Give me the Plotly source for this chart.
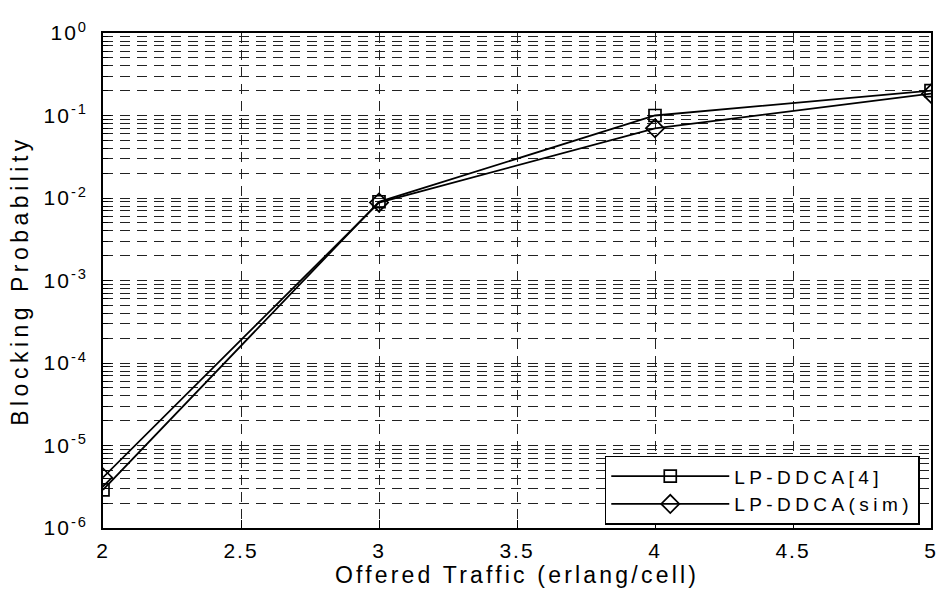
import plotly.graph_objects as go

# Offered traffic per cell (erlang) and blocking probability for each method
traffic = [2, 3, 4, 5]
lp_ddca_ref = [2.9e-6, 9.0e-3, 0.100, 0.200]
lp_ddca_sim = [4.1e-6, 8.8e-3, 0.070, 0.184]

x_ticks = [2, 2.5, 3, 3.5, 4, 4.5, 5]
x_tick_text = ["2", "2.5", "3", "3.5", "4", "4.5", "5"]
y_ticks = [1e-6, 1e-5, 1e-4, 1e-3, 1e-2, 1e-1, 1e0]
y_tick_text = ["10<sup>-6</sup>", "10<sup>-5</sup>", "10<sup>-4</sup>", "10<sup>-3</sup>",
               "10<sup>-2</sup>", "10<sup>-1</sup>", "10<sup>0</sup>"]

FONT = "Liberation Sans, Arial, sans-serif"
GRID_DASH = "10px,7px"

fig = go.Figure()
fig.add_trace(go.Scatter(
    x=traffic, y=lp_ddca_ref, name="LP-DDCA[4]", mode="lines+markers",
    line=dict(color="black", width=1.8),
    marker=dict(symbol="square-open", size=12, color="black", line=dict(width=1.7)),
))
fig.add_trace(go.Scatter(
    x=traffic, y=lp_ddca_sim, name="LP-DDCA(sim)", mode="lines+markers",
    line=dict(color="black", width=1.8),
    marker=dict(symbol="diamond-open", size=14, color="black", line=dict(width=1.7)),
))

fig.update_layout(
    width=943, height=589,
    margin=dict(l=103, r=6, t=33, b=58),
    paper_bgcolor="white", plot_bgcolor="white",
    font=dict(family=FONT, color="black", size=21),
    showlegend=True,
    legend=dict(
        x=0.606, y=0.146, xanchor="left", yanchor="top",
        bgcolor="white", bordercolor="black", borderwidth=1.5,
        font=dict(family=FONT, size=19, color="black"),
        itemwidth=118,
    ),
)

fig.update_xaxes(
    type="linear", range=[2, 5],
    tickvals=x_ticks, ticktext=x_tick_text,
    ticks="inside", ticklen=8, tickwidth=1.2, tickcolor="black",
    showline=True, linecolor="black", linewidth=1.6, mirror=True,
    showgrid=True, gridcolor="#222", gridwidth=1.2, griddash=GRID_DASH,
    zeroline=False, ticklabelstandoff=3,
    tickfont=dict(size=21),
    title=dict(text="Offered Traffic (erlang/cell)", font=dict(size=23), standoff=5),
)

fig.update_yaxes(
    type="log", range=[-6, 0],
    tickvals=y_ticks, ticktext=y_tick_text,
    ticks="inside", ticklen=8, tickwidth=1.2, tickcolor="black",
    showline=True, linecolor="black", linewidth=1.6, mirror=True,
    showgrid=True, gridcolor="#222", gridwidth=1.2, griddash=GRID_DASH,
    minor=dict(dtick="D1", showgrid=True, gridcolor="#222", gridwidth=1.2,
               griddash=GRID_DASH, ticks="inside", ticklen=5, tickcolor="black"),
    zeroline=False, ticklabelstandoff=9,
    tickfont=dict(size=21),
    title=dict(text="Blocking Probability", font=dict(size=23), standoff=17),
)

# Spread the letters of the labels; the legend is re-laid out afterwards so its
# box is measured with the wider text.
spacing_js = """
var gd = document.getElementById('{plot_id}');
var css = document.createElement('style');
css.textContent = '.legendtext{letter-spacing:4.4px}' +
                  '.xtitle{letter-spacing:3.2px}' +
                  '.ytitle{letter-spacing:4.5px}' +
                  '.xtick text,.ytick text{letter-spacing:2px}';
document.head.appendChild(css);
return Plotly.relayout(gd, {'legend.font.size': 19.05});
"""

fig.write_html("out.html", post_script=spacing_js)
